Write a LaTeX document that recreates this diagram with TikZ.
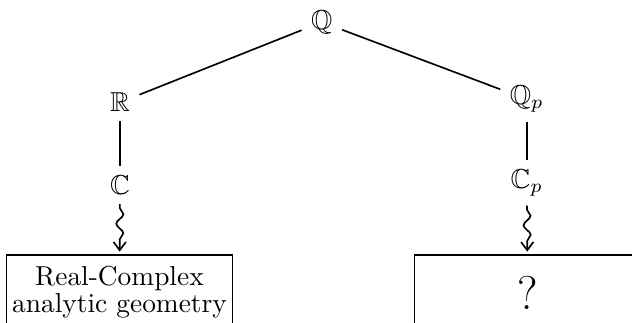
\documentclass[tikz,border=0pt]{standalone}
\usepackage{amssymb}
\usepackage{tikz}
\usetikzlibrary{arrows.meta,decorations.pathmorphing}
\tikzset{
  field/.style={inner sep=3.3pt},
  geombox/.style={draw, semithick, inner xsep=1.5pt, minimum width=2.9cm, minimum height=0.96cm, align=center, font=\fontsize{10}{9.8}\selectfont},
  link/.style={semithick},
  squig/.style={semithick, -{Straight Barb[length=3pt, width=4.5pt]}, shorten >=1pt,
    decorate, decoration={snake, amplitude=1.3pt, segment length=7pt, pre length=1.5pt, post length=1.6mm}},
}
\begin{document}
\begin{tikzpicture}
        \useasboundingbox (0,0) rectangle (8.11,4.144);
        \clip (0,0) rectangle (8.11,4.144);
        \node[field] (q) at (4.13,3.86) {$\mathbb{Q}$};
        \node[field] (r) at (1.54,2.83) {$\mathbb{R}$};
        \node[field] (qp) at (6.76,2.87) {$\mathbb{Q}_p$};
        \node[field] (c) at (1.54,1.77) {$\mathbb{C}$};
        \node[field] (cp) at (6.76,1.80) {$\mathbb{C}_p$};
        \node[geombox] (real) at (1.533,0.39) {Real-Complex\\analytic geometry};
        \node[geombox, font=\LARGE] (padic) at (6.77,0.39) {?};
        \draw[link] (q) -- (r);
        \draw[link] (q) -- (qp);
        \draw[link] (r) -- (c);
        \draw[link] (qp) -- (cp);
        \draw[squig] (c) -- (real);
        \draw[squig] (cp) -- (padic);
      \end{tikzpicture}
\end{document}
